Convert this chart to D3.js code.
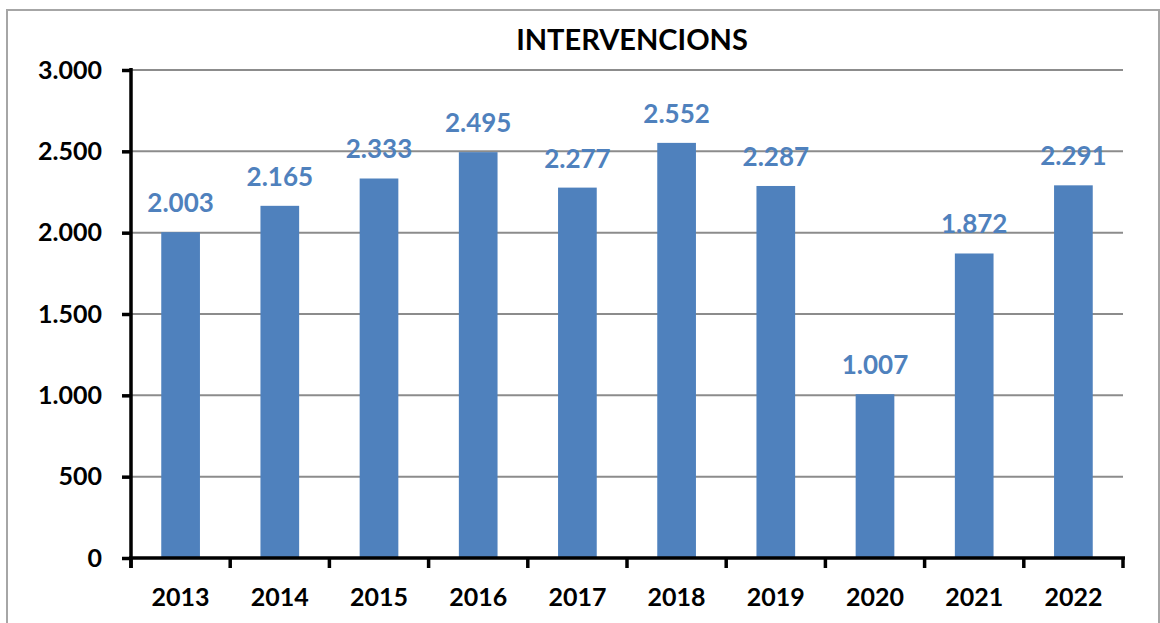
<!DOCTYPE html>
<html><head><meta charset="utf-8">
<script src="https://cdn.jsdelivr.net/npm/d3@7"></script>
<style>body{margin:0;background:#fff}svg{display:block}text{font-family:Lato,"Open Sans",sans-serif;font-weight:bold}</style>
</head><body><svg id="c" width="1160" height="623"></svg>
<script>
const years = ["2013","2014","2015","2016","2017","2018","2019","2020","2021","2022"];
const values = [2003,2165,2333,2495,2277,2552,2287,1007,1872,2291];
const yTicks = [0,500,1000,1500,2000,2500,3000];
const title = "INTERVENCIONS";

const svg = d3.select("#c");
const fmt = v => d3.format(",")(v).replace(/,/g,".");
svg.append("rect").attr("x",7).attr("y",10).attr("width",1152).attr("height",630)
  .attr("fill","#fff").attr("stroke","#a6a6a6").attr("stroke-width",2);

const x = d3.scaleBand().domain(years).range([131,1123]).paddingInner(0.61).paddingOuter(0.305);
const y = d3.scaleLinear().domain([0,3000]).range([558,70]);

svg.append("g").selectAll("line").data(yTicks.filter(d=>d>0)).join("line")
  .attr("x1",131).attr("x2",1123).attr("y1",d=>y(d)).attr("y2",d=>y(d))
  .attr("stroke","#8c8c8c").attr("stroke-width",2);

svg.append("g").selectAll("rect").data(values).join("rect")
  .attr("x",(d,i)=>x(years[i])).attr("width",x.bandwidth())
  .attr("y",d=>y(d)).attr("height",d=>y(0)-y(d)).attr("fill","#4f81bd");

svg.append("g").selectAll("text").data(values).join("text")
  .attr("x",(d,i)=>x(years[i])+x.bandwidth()/2).attr("y",d=>y(d)-20)
  .attr("text-anchor","middle").attr("fill","#4f81bd").attr("font-size",26)
  .text(d=>fmt(d));

const yAxis = d3.axisLeft(y).tickValues(yTicks).tickFormat(fmt).tickSize(9).tickPadding(20);
const gy = svg.append("g").attr("transform","translate(131,0)").call(yAxis);
gy.select(".domain").attr("stroke","#000").attr("stroke-width",3.5).attr("d",`M0,${y(3000)-2}V${y(0)+10}`);
gy.selectAll(".tick line").attr("stroke","#000").attr("stroke-width",3.5);
gy.selectAll(".tick text").attr("font-size",25).attr("fill","#000").attr("font-family","Lato,sans-serif").attr("font-weight","bold");

const xBound = d3.scaleLinear().domain([0,years.length]).range([131,1123]);
const gx = svg.append("g");
gx.append("line").attr("x1",129).attr("x2",1125).attr("y1",y(0)).attr("y2",y(0)).attr("stroke","#000").attr("stroke-width",3.5);
gx.selectAll(".tk").data(d3.range(years.length+1)).join("line").attr("class","tk")
  .attr("x1",d=>xBound(d)).attr("x2",d=>xBound(d)).attr("y1",y(0)).attr("y2",y(0)+10)
  .attr("stroke","#000").attr("stroke-width",3.5);
gx.selectAll("text").data(years).join("text")
  .attr("x",d=>x(d)+x.bandwidth()/2).attr("y",606).attr("text-anchor","middle")
  .attr("font-size",25).attr("fill","#000").text(d=>d);

svg.append("text").attr("x",632).attr("y",50).attr("text-anchor","middle")
  .attr("font-size",29).attr("fill","#000").text(title);
</script></body></html>
